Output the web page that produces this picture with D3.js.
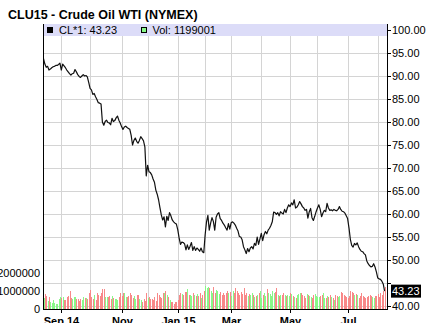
<!DOCTYPE html>
<html><head><meta charset="utf-8">
<script src="https://cdn.jsdelivr.net/npm/d3@7"></script>
<style>body{margin:0;background:#fff}svg{display:block;font-family:Arial,"Liberation Sans",sans-serif}</style>
</head><body><svg id="c" width="436" height="334"></svg>
<script>
const title = "CLU15 - Crude Oil WTI (NYMEX)";
const startDate = "2014-08-13";
const holidays = ["2014-09-01","2014-11-27","2014-12-25","2015-01-01","2015-01-19","2015-02-16","2015-04-03","2015-05-25","2015-07-03"];
const closes = [
93.8,92.6,91.9,92.1,91.3,91.5,91.8,92.0,92.1,92.3,
92.3,92.5,92.8,91.3,92.6,92.2,91.8,91.3,90.9,90.5,
90.2,90.5,90.6,91.4,90.9,90.3,89.9,89.7,90.0,90.3,
90.0,90.1,89.8,88.6,87.3,87.0,86.0,86.2,85.5,84.9,
84.2,84.1,83.9,80.0,79.3,80.1,80.4,79.9,79.8,79.4,
80.8,80.1,80.3,80.9,81.3,80.4,79.8,79.0,78.4,78.9,
79.1,78.8,78.6,78.4,77.1,75.0,76.0,76.5,75.8,75.4,
76.0,76.8,76.4,75.9,74.6,68.3,70.6,69.2,69.0,68.5,
67.6,66.9,65.2,64.3,63.1,61.4,59.8,58.7,59.4,57.2,
59.5,58.6,60.3,59.6,58.7,58.3,58.0,57.8,56.6,54.8,
53.4,53.9,53.8,53.5,52.2,53.3,52.3,53.0,53.8,52.1,
52.9,52.1,52.6,52.3,51.9,52.6,51.8,51.6,55.5,58.3,
59.7,56.5,58.0,59.2,58.4,56.5,59.3,60.0,60.3,59.0,
58.6,58.0,57.6,57.0,56.5,57.9,56.7,58.1,58.3,58.0,
57.6,56.9,56.3,55.1,55.0,54.4,52.9,52.2,51.4,52.5,
51.8,52.6,52.9,52.4,53.6,53.2,55.0,53.4,54.6,55.8,
54.2,55.5,56.2,55.7,56.5,56.9,57.5,58.3,60.4,60.3,
59.9,60.3,59.6,60.5,60.2,60.0,61.0,60.3,61.3,62.0,
61.6,62.4,62.0,63.1,61.3,61.5,62.0,62.7,62.2,61.6,
61.3,60.8,61.0,59.1,60.5,61.2,59.2,58.6,59.5,60.5,
61.3,62.0,61.0,59.4,60.2,60.8,60.5,62.3,61.3,60.8,
60.9,60.7,61.0,60.8,60.7,61.0,61.6,61.0,60.6,60.5,
60.2,59.6,59.0,57.0,54.5,53.2,52.8,53.6,53.3,53.7,
52.9,52.3,51.9,51.8,51.4,51.1,49.8,49.2,48.8,48.5,
48.6,49.2,48.5,47.4,46.1,45.9,45.8,45.4,44.8,43.23
];
// volume in thousands of contracts
const volumes = [
590,830,720,460,690,410,310,500,350,280,
280,570,650,590,690,500,500,650,720,1020,
610,540,690,690,570,540,460,570,500,690,
610,610,540,910,1060,690,540,760,500,870,
800,720,870,1130,1090,690,650,650,720,570,
720,610,540,570,500,690,870,720,910,910,
690,650,720,870,760,610,720,570,780,780,
540,500,390,540,460,910,590,650,570,540,
500,690,460,910,800,650,600,
870,910,1000,760,690,500,410,390,300,390,410,
500,780,870,850,780,960,930,1130,800,780,720,870,780,700,830,720,870,600,760,1000,
1300,1150,1200,1150,1000,870,1200,910,1040,1000,850,960,800,900,760,870,1000,870,960,
700,1000,870,1150,1000,870,780,960,850,1150,800,870,720,820,780,870,760,680,720,800,910,1000,
600,780,870,720,1130,910,830,720,1000,870,930,1190,760,700,760,800,870,760,720,780,700,
870,830,720,650,610,780,830,910,870,800,720,590,830,760,720,650,610,780,830,720,
690,650,720,760,870,610,590,720,650,800,690,610,500,780,720,650,720,930,870,780,700,650,
590,720,1000,930,870,760,830,780,610,720,870,720,650,590,650,720,800,700,650,590,700,720,
830,650,870,760,1000,1199
];
const priceTicks = [40,45,50,55,60,65,70,75,80,85,90,95,100];
const priceLabels = ["40.00","","50.00","55.00","60.00","65.00","70.00","75.00","80.00","85.00","90.00","95.00","100.00"];
const volTicks = [0,1000000,2000000];
const monthLabels = {"2014-9":"Sep 14","2014-11":"Nov","2015-1":"Jan 15","2015-3":"Mar","2015-5":"May","2015-7":"Jul"};
const lastLabel = "43.23";
const legendPrice = "CL*1: 43.23";
const legendVol = "Vol: 1199001";

// trading days
const fmt = d3.timeFormat("%Y-%m-%d");
const dates = [];
let d = d3.timeParse("%Y-%m-%d")(startDate);
while (dates.length < closes.length) {
  const wd = d.getDay();
  if (wd !== 0 && wd !== 6 && !holidays.includes(fmt(d))) dates.push(new Date(d));
  d = d3.timeDay.offset(d, 1);
}

const L = 43, R = 387, T = 24, B = 309;
const svg = d3.select("#c");
const x = d3.scaleLinear().domain([0, closes.length - 1]).range([43.5, 384.6]);
const y = d3.scaleLinear().domain([40, 100]).range([306, 30]);
const yv = d3.scaleLinear().domain([0, 1000000]).range([B, 291]);

// grid
const g = svg.append("g");
g.selectAll(".hg").data(priceTicks).join("line")
  .attr("x1", L).attr("x2", R).attr("y1", v => Math.round(y(v)) + 0.5).attr("y2", v => Math.round(y(v)) + 0.5)
  .attr("stroke", "#d4d4d4").attr("stroke-width", 1);
const monthStarts = [];
dates.forEach((dt, i) => { if (i > 0 && dt.getMonth() !== dates[i-1].getMonth()) monthStarts.push(i); });
g.selectAll(".vg").data(monthStarts).join("line")
  .attr("x1", i => Math.round(x(i)) + 0.5).attr("x2", i => Math.round(x(i)) + 0.5)
  .attr("y1", 36).attr("y2", B).attr("stroke", "#d4d4d4").attr("stroke-width", 1);

// legend band
svg.append("rect").attr("x", L).attr("y", T).attr("width", R - L).attr("height", 12).attr("fill", "#dcdcf8");

// volume bars
svg.append("g").selectAll("rect").data(volumes).join("rect")
  .attr("x", (v, i) => Math.round(x(i)))
  .attr("width", 1)
  .attr("y", v => yv(v * 1000))
  .attr("height", v => B - yv(v * 1000))
  .attr("fill", (v, i) => (i === 0 || closes[i] >= closes[i-1]) ? "#88f888" : "#f88888")
  .attr("shape-rendering", "crispEdges");

// price line
svg.append("path").datum(closes)
  .attr("d", d3.line().x((v, i) => x(i)).y(v => y(v)))
  .attr("fill", "none").attr("stroke", "#111").attr("stroke-width", 1.2).attr("stroke-linejoin", "round");

// axes lines
svg.append("line").attr("x1", L + 0.5).attr("x2", L + 0.5).attr("y1", T).attr("y2", B + 1).attr("stroke", "#000");
svg.append("line").attr("x1", R + 0.5).attr("x2", R + 0.5).attr("y1", T).attr("y2", B + 1).attr("stroke", "#000");
svg.append("line").attr("x1", L).attr("x2", R + 1).attr("y1", B + 0.5).attr("y2", B + 0.5).attr("stroke", "#000");

// right price axis
const ra = svg.append("g").attr("font-size", 11).attr("fill", "#000");
priceTicks.forEach((v, k) => {
  const yy = Math.round(y(v)) + 0.5;
  ra.append("line").attr("x1", R).attr("x2", R + 4).attr("y1", yy).attr("y2", yy).attr("stroke", "#000");
  if (priceLabels[k]) ra.append("text").attr("x", 392).attr("y", yy).attr("dy", "0.36em").text(priceLabels[k]);
});
const ly = y(closes[closes.length - 1]);
svg.append("rect").attr("x", 391).attr("y", ly - 6.5).attr("width", 30).attr("height", 13).attr("fill", "#000");
svg.append("text").attr("x", 392).attr("y", ly).attr("dy", "0.36em").attr("font-size", 11).attr("fill", "#fff").text(lastLabel);

// left volume axis
const la = svg.append("g").attr("font-size", 11);
volTicks.forEach(v => {
  la.append("text").attr("x", 40).attr("y", yv(v)).attr("dy", "0.36em").attr("text-anchor", "end").text(d3.format("d")(v));
});

// bottom axis
svg.append("clipPath").attr("id", "bc").append("rect").attr("x", 0).attr("y", 0).attr("width", 436).attr("height", 323);
const ba = svg.append("g").attr("clip-path", "url(#bc)");
monthStarts.forEach(i => {
  const key = dates[i].getFullYear() + "-" + (dates[i].getMonth() + 1);
  if (monthLabels[key]) {
    const xx = Math.round(x(i)) + 0.5;
    ba.append("line").attr("x1", xx).attr("x2", xx).attr("y1", B).attr("y2", B + 4).attr("stroke", "#000");
    ba.append("text").attr("x", xx).attr("y", 325).attr("text-anchor", "middle")
      .attr("font-size", 11).attr("font-weight", "bold").text(monthLabels[key]);
  }
});

// legend
svg.append("rect").attr("x", 47.5).attr("y", 27.5).attr("width", 5).attr("height", 5).attr("fill", "#000").attr("stroke", "#000");
svg.append("text").attr("x", 59).attr("y", 30).attr("dy", "0.36em").attr("font-size", 11).text(legendPrice);
svg.append("rect").attr("x", 141.5).attr("y", 27.5).attr("width", 5).attr("height", 5).attr("fill", "#88f888").attr("stroke", "#000");
svg.append("text").attr("x", 152.5).attr("y", 30).attr("dy", "0.36em").attr("font-size", 11).text(legendVol);

// title
svg.append("text").attr("x", 8).attr("y", 19).attr("font-size", 12.5).attr("font-weight", "bold").text(title);
</script></body></html>
